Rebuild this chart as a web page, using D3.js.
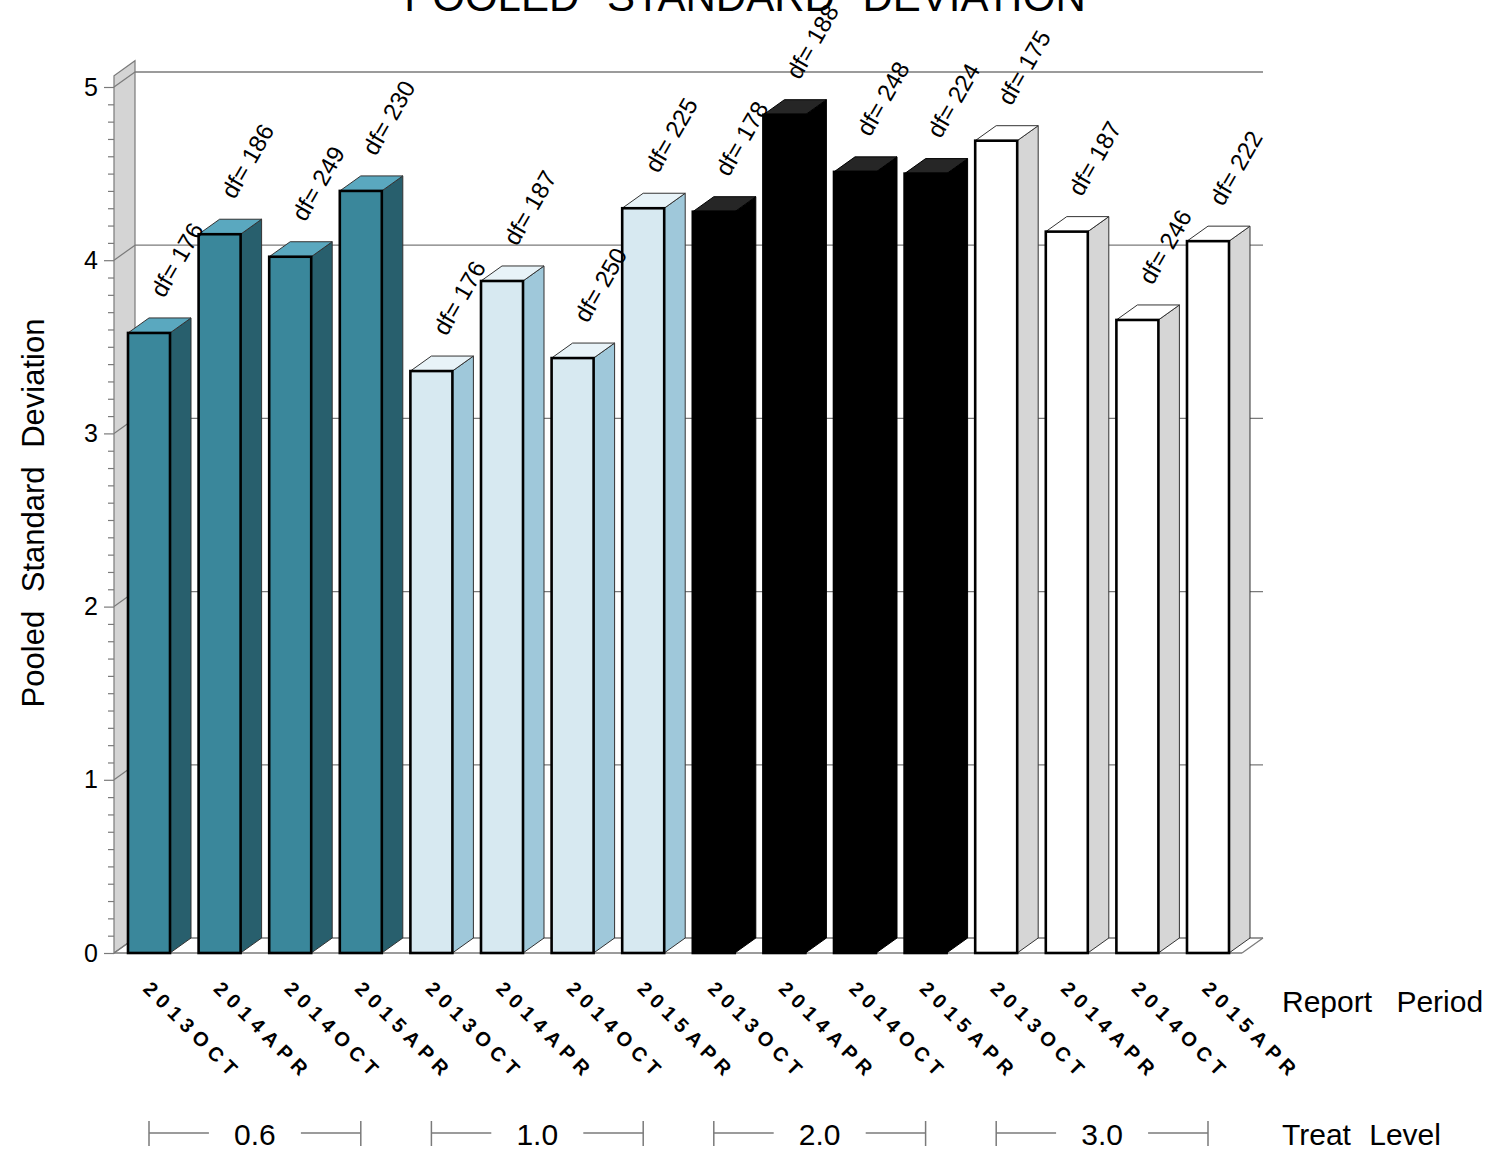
<!DOCTYPE html>
<html>
<head>
<meta charset="utf-8">
<script src="https://cdn.jsdelivr.net/npm/d3@7"></script>
<style>
  html, body { margin: 0; padding: 0; background: #fff; }
  svg { display: block; }
  text { font-family: "Liberation Sans", Arial, sans-serif; }
</style>
</head>
<body>
<svg id="chart" width="1491" height="1153"></svg>
<script>
// ---------------- DATA ----------------
const treatLevels = ["0.6", "1.0", "2.0", "3.0"];
const reportPeriods = ["2013OCT", "2014APR", "2014OCT", "2015APR"];
const stdDev = [3.58, 4.15, 4.02, 4.40,
                3.36, 3.88, 3.435, 4.30,
                4.28, 4.84, 4.51, 4.50,
                4.69, 4.165, 3.655, 4.11];
const dfValues = [176, 186, 249, 230,
                  176, 187, 250, 225,
                  178, 188, 248, 224,
                  175, 187, 246, 222];
const yTicks = [0, 1, 2, 3, 4, 5];
const titleText = "POOLED STANDARD DEVIATION";
const yLabel = "Pooled Standard Deviation";
const xLabel = "Report Period";
const groupLabel = "Treat Level";

// colours per treat level: front, side, top
const groupFront = ["#3a879b", "#d7e9f1", "#000000", "#ffffff"];
const groupSide  = ["#285f6d", "#9fc8da", "#000000", "#d6d6d6"];
const groupTop   = ["#5aa8bf", "#e8f3f8", "#262626", "#ffffff"];

// ---------------- BUILD ----------------
const bars = [];
treatLevels.forEach((t, gi) => {
  reportPeriods.forEach((p, pi) => {
    const i = gi * reportPeriods.length + pi;
    bars.push({ key: t + "|" + p, group: gi, period: p, value: stdDev[i], df: dfValues[i] });
  });
});

const svg = d3.select("#chart");
const W = 1491, H = 1153;
svg.append("rect").attr("width", W).attr("height", H).attr("fill", "#fff");

const DX = 21, DY = -15;          // 3D depth offset
const axisX = 114;                 // front y-axis x
const backRight = 1263;            // right end of back wall

const y = d3.scaleLinear().domain([0, 5]).range([953, 87]);
const x = d3.scaleBand().domain(bars.map(d => d.key)).range([128, 1229])
  .paddingInner(0.405).paddingOuter(0);
const bw = x.bandwidth();
const wallTop = 5.065;

const grid = "#7a7a7a";

// left wall
svg.append("polygon")
  .attr("points", [[axisX, y(0)], [axisX, y(wallTop)], [axisX + DX, y(wallTop) + DY], [axisX + DX, y(0) + DY]].map(p => p.join(",")).join(" "))
  .attr("fill", "#d4d4d4").attr("stroke", grid).attr("stroke-width", 1.2);

// back wall gridlines and wall diagonals
yTicks.forEach(v => {
  svg.append("line").attr("x1", axisX).attr("y1", y(v)).attr("x2", axisX + DX).attr("y2", y(v) + DY)
    .attr("stroke", grid).attr("stroke-width", 1.2);
  svg.append("line").attr("x1", axisX + DX).attr("y1", y(v) + DY).attr("x2", backRight).attr("y2", y(v) + DY)
    .attr("stroke", grid).attr("stroke-width", 1.3);
});
// floor front line and right diagonal
svg.append("line").attr("x1", axisX).attr("y1", y(0)).attr("x2", backRight - DX).attr("y2", y(0))
  .attr("stroke", grid).attr("stroke-width", 1.5);
svg.append("line").attr("x1", backRight - DX).attr("y1", y(0)).attr("x2", backRight).attr("y2", y(0) + DY)
  .attr("stroke", grid).attr("stroke-width", 1.2);

// y axis ticks
const minorTicks = d3.range(0, 51).map(k => k / 10).filter(v => !yTicks.includes(v));
const axMinor = svg.append("g").attr("transform", `translate(${axisX},0)`)
  .call(d3.axisLeft(y).tickValues(minorTicks).tickSize(6).tickFormat(""));
axMinor.select(".domain").remove();
axMinor.selectAll("line").attr("stroke", grid).attr("stroke-width", 1.2);
const axMajor = svg.append("g").attr("transform", `translate(${axisX},0)`)
  .call(d3.axisLeft(y).tickValues(yTicks).tickSize(10).tickPadding(6).tickFormat(d3.format("d")));
axMajor.select(".domain").remove();
axMajor.selectAll("line").attr("stroke", grid).attr("stroke-width", 1.2);
axMajor.selectAll("text").attr("font-size", 25).attr("fill", "#000")
  .attr("font-family", "Liberation Sans, Arial, sans-serif");

// bars
const bg = svg.append("g");
bars.forEach(d => {
  const x0 = x(d.key), x1 = x0 + bw;
  const yt = y(d.value), yb = y(0);
  const g = bg.append("g");
  // side face
  g.append("polygon")
    .attr("points", [[x1, yb], [x1, yt], [x1 + DX, yt + DY], [x1 + DX, yb + DY]].map(p => p.join(",")).join(" "))
    .attr("fill", groupSide[d.group]).attr("stroke", d.group === 2 ? "#000" : "#333").attr("stroke-width", 1);
  // top face
  g.append("polygon")
    .attr("points", [[x0, yt], [x0 + DX, yt + DY], [x1 + DX, yt + DY], [x1, yt]].map(p => p.join(",")).join(" "))
    .attr("fill", groupTop[d.group]).attr("stroke", d.group === 2 ? "#000" : "#333").attr("stroke-width", 1);
  // front face
  g.append("rect").attr("x", x0).attr("y", yt).attr("width", bw).attr("height", yb - yt)
    .attr("fill", groupFront[d.group]).attr("stroke", "#000").attr("stroke-width", 2.6);
});

// df labels
bars.forEach(d => {
  const ax = x(d.key) + 36, ay = y(d.value) - 34;
  svg.append("text").attr("transform", `translate(${ax},${ay}) rotate(-60)`)
    .attr("font-size", 24).attr("fill", "#000").attr("text-anchor", "start")
    .text("df= " + d.df);
});

// x category labels
bars.forEach(d => {
  const ax = x(d.key) + bw / 2 - 7, ay = 990;
  svg.append("text").attr("transform", `translate(${ax},${ay}) rotate(45)`)
    .attr("font-size", 20).attr("font-weight", "bold").attr("letter-spacing", 6)
    .attr("fill", "#000").text(d.period);
});

// treat level brackets
treatLevels.forEach((t, gi) => {
  const first = bars[gi * reportPeriods.length], last = bars[gi * reportPeriods.length + reportPeriods.length - 1];
  const xa = x(first.key) + bw / 2, xb = x(last.key) + bw / 2, xc = (xa + xb) / 2;
  const yl = 1133;
  const gg = svg.append("g").attr("stroke", grid).attr("stroke-width", 1.5);
  gg.append("line").attr("x1", xa).attr("x2", xa).attr("y1", 1121).attr("y2", 1146);
  gg.append("line").attr("x1", xb).attr("x2", xb).attr("y1", 1121).attr("y2", 1146);
  gg.append("line").attr("x1", xa).attr("x2", xc - 46).attr("y1", yl).attr("y2", yl);
  gg.append("line").attr("x1", xc + 46).attr("x2", xb).attr("y1", yl).attr("y2", yl);
  svg.append("text").attr("x", xc).attr("y", 1145).attr("text-anchor", "middle")
    .attr("font-size", 30).attr("fill", "#000").text(t);
});

// axis titles
svg.append("text").attr("x", 1282).attr("y", 1012).attr("font-size", 30)
  .attr("word-spacing", 16).attr("fill", "#000").text(xLabel);
svg.append("text").attr("x", 1282).attr("y", 1145).attr("font-size", 30)
  .attr("word-spacing", 10).attr("fill", "#000").text(groupLabel);
svg.append("text").attr("transform", "translate(44,513) rotate(-90)").attr("text-anchor", "middle")
  .attr("font-size", 31).attr("word-spacing", 10).attr("fill", "#000").text(yLabel);

// title (partly above the page, as in the reference)
svg.append("text").attr("x", 745).attr("y", 11).attr("text-anchor", "middle")
  .attr("font-size", 42).attr("word-spacing", 16).attr("fill", "#000").text(titleText);
</script>
</body>
</html>
